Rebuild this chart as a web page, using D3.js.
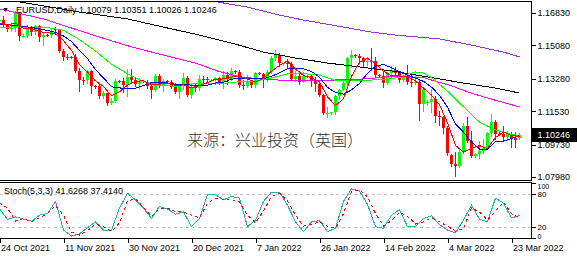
<!DOCTYPE html>
<html>
<head>
<meta charset="utf-8">
<script src="https://cdn.jsdelivr.net/npm/d3@7"></script>
<style>
body{margin:0;background:#fff;}
svg{display:block;font-family:"Liberation Sans",Arial,sans-serif;}
</style>
</head>
<body>
<svg id="chart" width="577" height="258"></svg>
<script>
// EURUSD daily bars, 24 Oct 2021 .. 25 Mar 2022 (one value per bar)
let open = [
	1.1641,1.1644,1.1618,1.1598,1.1603,1.1682,1.1558,1.1560,1.1607,1.1580,
	1.1612,1.1555,1.1567,1.1565,1.1596,1.1590,1.1480,1.1446,1.1445,1.1443,
	1.1368,1.1320,1.1319,1.1371,1.1289,1.1287,1.1236,1.1250,1.1198,1.1209,
	1.1318,1.1315,1.1292,1.1338,1.1320,1.1302,1.1316,1.1312,1.1287,1.1265,
	1.1342,1.1289,1.1316,1.1312,1.1284,1.1259,1.1289,1.1330,1.1238,1.1281,
	1.1280,1.1329,1.1327,1.1320,1.1322,1.1330,1.1311,1.1350,1.1325,1.1370,
	1.1366,1.1297,1.1287,1.1313,1.1295,1.1359,1.1356,1.1325,1.1366,1.1441,
	1.1455,1.1411,1.1413,1.1407,1.1325,1.1343,1.1312,1.1345,1.1342,1.1324,
	1.1302,1.1242,1.1143,1.1145,1.1148,1.1235,1.1270,1.1303,1.1440,1.1456,
	1.1452,1.1440,1.1416,1.1424,1.1422,1.1348,1.1342,1.1305,1.1357,1.1375,
	1.1360,1.1320,1.1335,1.1308,1.1307,1.1310,1.1192,1.1200,1.1205,1.1219,
	1.1125,1.1120,1.1063,1.0915,1.0870,1.0855,1.0935,1.1075,1.0990,1.0912,
	1.0920,1.0940,1.0955,1.1035,1.1095,1.1030,1.1028,1.1016,1.1030,1.1008,
	1.10079]
let high = [
	1.1648,1.1665,1.1625,1.1622,1.1692,1.1690,1.1568,1.1616,1.1613,1.1617,
	1.1616,1.1575,1.1572,1.1594,1.1609,1.1594,1.1490,1.1464,1.1450,1.1464,
	1.1386,1.1340,1.1374,1.1375,1.1295,1.1300,1.1264,1.1252,1.1222,1.1325,
	1.1322,1.1330,1.1383,1.1383,1.1335,1.1334,1.1320,1.1322,1.1292,1.1355,
	1.1352,1.1325,1.1320,1.1320,1.1306,1.1294,1.1360,1.1344,1.1306,1.1302,
	1.1346,1.1344,1.1336,1.1325,1.1336,1.1336,1.1369,1.1366,1.1387,1.1375,
	1.1376,1.1322,1.1346,1.1317,1.1365,1.1362,1.1360,1.1374,1.1451,1.1482,
	1.1465,1.1415,1.1434,1.1418,1.1370,1.1369,1.1363,1.1348,1.1347,1.1336,
	1.1320,1.1245,1.1174,1.1150,1.1241,1.1273,1.1317,1.1448,1.1483,1.1460,
	1.1463,1.1445,1.1448,1.1495,1.1443,1.1352,1.1363,1.1367,1.1395,1.1394,
	1.1370,1.1340,1.1400,1.1360,1.1346,1.1325,1.1275,1.1215,1.1274,1.1234,
	1.1152,1.1125,1.1075,1.0920,1.0933,1.0950,1.1090,1.1120,1.1045,1.0925,
	1.0994,1.1004,1.1043,1.1137,1.1105,1.1040,1.1071,1.1045,1.1042,1.1040,
	1.10351]
let low = [
	1.1635,1.1610,1.1585,1.1588,1.1585,1.1535,1.1552,1.1553,1.1565,1.1570,
	1.1530,1.1513,1.1560,1.1555,1.1570,1.1470,1.1430,1.1433,1.1440,1.1365,
	1.1263,1.1300,1.1305,1.1249,1.1280,1.1227,1.1226,1.1186,1.1193,1.1205,
	1.1310,1.1259,1.1235,1.1310,1.1290,1.1280,1.1308,1.1280,1.1227,1.1262,
	1.1282,1.1264,1.1308,1.1276,1.1250,1.1222,1.1275,1.1236,1.1222,1.1262,
	1.1266,1.1300,1.1312,1.1315,1.1300,1.1299,1.1280,1.1301,1.1320,1.1360,
	1.1282,1.1272,1.1284,1.1285,1.1285,1.1352,1.1285,1.1314,1.1360,1.1430,
	1.1399,1.1405,1.1394,1.1321,1.1314,1.1301,1.1310,1.1338,1.1289,1.1262,
	1.1235,1.1137,1.1121,1.1140,1.1140,1.1218,1.1266,1.1285,1.1390,1.1448,
	1.1413,1.1393,1.1403,1.1373,1.1340,1.1338,1.1281,1.1298,1.1337,1.1335,
	1.1313,1.1315,1.1299,1.1287,1.1300,1.1106,1.1154,1.1185,1.1150,1.1095,
	1.1079,1.1035,1.0915,1.0860,1.0806,1.0850,1.0930,1.0985,1.0905,1.0905,
	1.0903,1.0927,1.0950,1.1020,1.1003,1.1022,1.0998,1.0998,1.0962,1.0962,
	1.10026]
let close = [
	1.1644,1.1618,1.1598,1.1603,1.1682,1.1558,1.1560,1.1607,1.1580,1.1612,
	1.1555,1.1567,1.1565,1.1588,1.1590,1.1480,1.1446,1.1445,1.1443,1.1368,
	1.1320,1.1319,1.1371,1.1289,1.1287,1.1236,1.1250,1.1198,1.1209,1.1318,
	1.1315,1.1292,1.1338,1.1320,1.1302,1.1316,1.1312,1.1287,1.1265,1.1342,
	1.1289,1.1316,1.1312,1.1284,1.1259,1.1289,1.1330,1.1238,1.1281,1.1280,
	1.1329,1.1327,1.1320,1.1322,1.1330,1.1311,1.1350,1.1325,1.1370,1.1366,
	1.1297,1.1287,1.1313,1.1295,1.1359,1.1356,1.1325,1.1366,1.1441,1.1455,
	1.1411,1.1413,1.1407,1.1325,1.1343,1.1312,1.1345,1.1342,1.1324,1.1302,
	1.1242,1.1143,1.1145,1.1148,1.1235,1.1270,1.1303,1.1440,1.1456,1.1452,
	1.1440,1.1416,1.1424,1.1422,1.1348,1.1342,1.1305,1.1357,1.1375,1.1360,
	1.1320,1.1335,1.1308,1.1307,1.1310,1.1192,1.1272,1.1205,1.1219,1.1125,
	1.1120,1.1063,1.0930,1.0870,1.0855,1.0935,1.1075,1.0990,1.0912,1.0920,
	1.0940,1.0955,1.1035,1.1095,1.1030,1.1028,1.1016,1.1030,1.1008,1.1000,
	1.10246]

// moving averages, one value every 2nd bar
let maRed = [
	1.1625,1.1620,1.1629,1.1600,1.1597,1.1583,1.1576,1.1573,1.1534,1.1481,
	1.1404,1.1364,1.1317,1.1287,1.1236,1.1258,1.1294,1.1313,1.1318,1.1296,
	1.1299,1.1305,1.1292,1.1295,1.1279,1.1292,1.1307,1.1326,1.1327,1.1337,
	1.1342,1.1327,1.1310,1.1330,1.1369,1.1400,1.1425,1.1380,1.1346,1.1333,
	1.1311,1.1231,1.1183,1.1220,1.1341,1.1418,1.1438,1.1410,1.1368,1.1345,
	1.1343,1.1340,1.1316,1.1278,1.1240,1.1188,1.1091,1.0968,1.0933,1.0953,
	1.0967,1.0952,1.1011,1.1041,1.1022,1.1016]
let maBlue = [
	1.1622,1.1620,1.1615,1.1610,1.1605,1.1597,1.1589,1.1578,1.1559,1.1529,
	1.1481,1.1437,1.1377,1.1333,1.1285,1.1279,1.1273,1.1278,1.1292,1.1307,
	1.1306,1.1306,1.1298,1.1297,1.1294,1.1292,1.1294,1.1305,1.1309,1.1326,
	1.1332,1.1327,1.1327,1.1329,1.1341,1.1361,1.1383,1.1384,1.1382,1.1368,
	1.1336,1.1282,1.1254,1.1245,1.1268,1.1303,1.1358,1.1397,1.1405,1.1388,
	1.1367,1.1347,1.1332,1.1314,1.1283,1.1239,1.1174,1.1085,1.1040,1.0987,
	1.0949,1.0949,1.0989,1.0992,1.1006,1.1022]
let maStep = 2

// slower averages as [bar, price]
let maGreen = [[0,1.1606],[4,1.1608],[8,1.1606],[12,1.1604],[16,1.1590],[20,1.1539],[24,1.1478],[28,1.1407],
	[32,1.1355],[36,1.1312],[40,1.1293],[44,1.1288],[48,1.1300],[52,1.1300],[56,1.1303],[60,1.1312],
	[64,1.1316],[68,1.1333],[72,1.1355],[76,1.1356],[80,1.1348],[84,1.1319],[88,1.1318],[92,1.1320],
	[96,1.1325],[100,1.1335],[102,1.1353],[104,1.1365],[106,1.1359],[108,1.1335],[112,1.1261],[116,1.1177],
	[120,1.1094],[124,1.1052],[128,1.1028],[130,1.1022]]
let maMagenta = [[0,1.1705],[11,1.1651],[25,1.1553],[33,1.1500],[41,1.1456],[49,1.1413],[55,1.1366],
	[61,1.1335],[70,1.1321],[82,1.1320],[92,1.1328],[99,1.1343],[106,1.1334],[113,1.1290],[118,1.1250],
	[124,1.1212],[130,1.1176]]
let maBlack = [[0,1.1760],[10,1.1725],[20,1.1688],[32,1.1651],[42,1.1602],[50,1.1564],[58,1.1521],
	[66,1.1472],[74,1.1440],[82,1.1413],[90,1.1392],[98,1.1370],[107,1.1338],[116,1.1305],[124,1.1278],
	[130,1.1251]]
let maPurple = [[30,1.1835],[40,1.1804],[53,1.1748],[62,1.1715],[70,1.1672],[76,1.1645],[86,1.1607],
	[93,1.1580],[99,1.1564],[110,1.1543],[118,1.1510],[126,1.1472],[130,1.1446]]

// Stoch(5,3,3), one value every 2nd bar
let stochK = [54,34,39,35,31,42,45,67,15,4,8,19,30,15,15,55,82,70,55,36,
	58,53,44,48,21,36,79,79,70,76,73,21,33,67,84,84,60,30,12,30,
	32,12,18,67,90,86,62,21,18,42,52,21,21,36,41,25,15,10,33,60,
	35,30,73,64,37,41.6268]
let stochD = [64,55,31,36,30,37,45,59,42,11,6,14,26,21,12,28,68,72,56,40,
	54,55,48,48,42,37,64,73,71,69,66,42,28,50,76,82,68,42,22,25,
	30,22,18,45,85,88,75,45,22,32,47,40,26,30,37,30,22,13,18,55,
	48,33,50,66,45,37.4140]

let priceTicks = [1.16830,1.15080,1.13280,1.11530,1.09730,1.07980]
let stochTicks = [100,80,20,0]
let stochLevels = [80,20]
let tickLabels = ['24 Oct 2021','11 Nov 2021','30 Nov 2021','20 Dec 2021','7 Jan 2022',
	'26 Jan 2022','14 Feb 2022','4 Mar 2022','23 Mar 2022']
let tickEvery = 16
let lastPrice = 1.10246
let title = 'EURUSD,Daily  1.10079 1.10351 1.10026 1.10246'
let stochTitle = 'Stoch(5,3,3) 41.6268 37.4140'
let source = '来源：兴业投资（英国）'

let up = '#00ff00', down = '#ff0000'
let plotRight = 531.5
let font = '"Liberation Sans",Arial,sans-serif'

let svg = d3.select('#chart')

let x = d3.scaleLinear().domain([0, close.length - 1]).range([-0.5, 4 * (close.length - 1) - 0.5])
let y = d3.scaleLinear().domain([1.07818, 1.17478]).range([180, 1])
let ys = d3.scaleLinear().domain([0, 100]).range([238.3, 183.3])

let defs = svg.append('defs')
defs.append('clipPath').attr('id', 'clipMain')
	.append('rect').attr('x', 0).attr('y', 1.5).attr('width', 531).attr('height', 178.5)
defs.append('clipPath').attr('id', 'clipSub')
	.append('rect').attr('x', 0).attr('y', 183).attr('width', 531).attr('height', 55)

// candles
let gMain = svg.append('g').attr('clip-path', 'url(#clipMain)').attr('shape-rendering', 'crispEdges')
let bars = d3.range(close.length)
function colour(i) { return close[i] >= open[i] ? up : down }

gMain.selectAll('.wick')
	.data(bars)
	.enter()
	.append('rect')
	.attr('x', function(i) { return x(i) - 0.5 })
	.attr('y', function(i) { return Math.round(y(high[i])) })
	.attr('width', 1)
	.attr('height', function(i) { return Math.max(1, Math.round(y(low[i])) - Math.round(y(high[i])) + 1) })
	.attr('fill', colour)

gMain.selectAll('.body')
	.data(bars)
	.enter()
	.append('rect')
	.attr('x', function(i) { return x(i) - 1.5 })
	.attr('y', function(i) { return Math.round(y(Math.max(open[i], close[i]))) })
	.attr('width', 3)
	.attr('height', function(i) {
		let h = Math.round(y(Math.min(open[i], close[i]))) - Math.round(y(Math.max(open[i], close[i])))
		return Math.max(1, h)
	})
	.attr('fill', colour)

// moving averages
let line = d3.line()
	.x(function(d) { return x(d[0]) })
	.y(function(d) { return y(d[1]) })

function stepped(arr) {
	return arr.map(function(v, k) { return [k * maStep, v] })
}

let maSeries = [
	{data: maBlack, color: '#000000'},
	{data: maPurple, color: '#9932cc'},
	{data: maMagenta, color: '#ff00ff'},
	{data: maGreen, color: '#00ff00'},
	{data: stepped(maBlue), color: '#0000ff'},
	{data: stepped(maRed), color: '#ff0000'}
]
gMain.selectAll('.ma')
	.data(maSeries)
	.enter()
	.append('path')
	.attr('fill', 'none')
	.attr('stroke', function(d) { return d.color })
	.attr('stroke-width', 1)
	.attr('d', function(d) { return line(d.data) })

// stochastic pane
let gSub = svg.append('g').attr('clip-path', 'url(#clipSub)').attr('shape-rendering', 'crispEdges')
gSub.selectAll('.level')
	.data(stochLevels)
	.enter()
	.append('line')
	.attr('x1', 0)
	.attr('x2', plotRight)
	.attr('y1', function(d) { return Math.round(ys(d)) + 0.5 })
	.attr('y2', function(d) { return Math.round(ys(d)) + 0.5 })
	.attr('stroke', '#c0c0c0')
	.attr('stroke-dasharray', '3,3')

let sline = d3.line()
	.x(function(d, k) { return x(k * maStep) })
	.y(function(d) { return ys(d) })

gSub.append('path')
	.datum(stochK)
	.attr('fill', 'none')
	.attr('stroke', '#20b2aa')
	.attr('stroke-width', 1)
	.attr('d', sline)
gSub.append('path')
	.datum(stochD)
	.attr('fill', 'none')
	.attr('stroke', '#ff0000')
	.attr('stroke-width', 1)
	.attr('stroke-dasharray', '3,3')
	.attr('d', sline)

// frames
let frame = svg.append('g').attr('stroke', '#000').attr('shape-rendering', 'crispEdges')
frame.append('line').attr('x1', 0).attr('x2', plotRight).attr('y1', 1.5).attr('y2', 1.5)
frame.append('line').attr('x1', 0).attr('x2', plotRight).attr('y1', 180.5).attr('y2', 180.5)
frame.append('line').attr('x1', 0).attr('x2', plotRight).attr('y1', 182.5).attr('y2', 182.5)
frame.append('line').attr('x1', 0).attr('x2', plotRight).attr('y1', 238.5).attr('y2', 238.5)
frame.append('line').attr('x1', plotRight).attr('x2', plotRight).attr('y1', 1).attr('y2', 181)
frame.append('line').attr('x1', plotRight).attr('x2', plotRight).attr('y1', 182).attr('y2', 239)

// price axis
let yAxis = svg.append('g')
	.attr('transform', 'translate(' + plotRight + ',0)')
	.call(d3.axisRight(y).tickValues(priceTicks).tickFormat(d3.format('.5f')).tickSize(4).tickPadding(2))
yAxis.select('.domain').remove()
yAxis.selectAll('text').attr('font-size', 9).attr('fill', '#000').attr('font-family', font)
yAxis.selectAll('line').attr('stroke', '#000').attr('shape-rendering', 'crispEdges')

// last price box
let yl = Math.round(y(lastPrice))
svg.append('rect')
	.attr('x', plotRight + 0.5)
	.attr('y', yl - 7)
	.attr('width', 577 - plotRight)
	.attr('height', 14)
	.attr('fill', '#000')
svg.append('text')
	.attr('x', plotRight + 6)
	.attr('y', y(lastPrice))
	.attr('dy', '0.34em')
	.attr('font-size', 9)
	.attr('fill', '#fff')
	.text(d3.format('.5f')(lastPrice))

// stoch axis, 100 and 0 drawn smaller and squeezed between their neighbours
let sAxis = svg.append('g')
	.attr('transform', 'translate(' + plotRight + ',0)')
	.call(d3.axisRight(ys).tickValues(stochTicks).tickSize(4).tickPadding(2))
sAxis.select('.domain').remove()
sAxis.selectAll('text').attr('fill', '#000').attr('font-family', font)
	.attr('font-size', function(d) { return (d == 100 || d == 0) ? 7 : 8 })
	.attr('y', function(d) { return d == 100 ? 2.6 : (d == 0 ? -2.3 : 0) })
sAxis.selectAll('line').attr('stroke', '#000').attr('shape-rendering', 'crispEdges')

// time axis
let tickIdx = tickLabels.map(function(t, k) { return k * tickEvery })
let xAxis = svg.append('g')
	.attr('transform', 'translate(0,238.5)')
	.call(d3.axisBottom(x).tickValues(tickIdx).tickFormat(function(d, k) { return tickLabels[k] }).tickSize(4).tickPadding(2))
xAxis.select('.domain').remove()
xAxis.selectAll('text').attr('font-size', 9).attr('fill', '#000').attr('text-anchor', 'start').attr('dx', 1)
	.attr('font-family', font)
xAxis.selectAll('line').attr('stroke', '#000').attr('shape-rendering', 'crispEdges')

// titles
svg.append('text').attr('x', 2).attr('y', 12).attr('font-size', 7).text('▼')
svg.append('text').attr('x', 16).attr('y', 12.5).attr('font-size', 9).attr('fill', '#000').text(title)
svg.append('text').attr('x', 4).attr('y', 194).attr('font-size', 9).attr('fill', '#000').text(stochTitle)

// watermark
svg.append('text')
	.attr('x', 187)
	.attr('y', 146)
	.attr('font-size', 16)
	.attr('font-weight', 300)
	.attr('font-family', '"Noto Sans CJK SC",sans-serif')
	.attr('fill', '#333')
	.text(source)
</script>
</body>
</html>
